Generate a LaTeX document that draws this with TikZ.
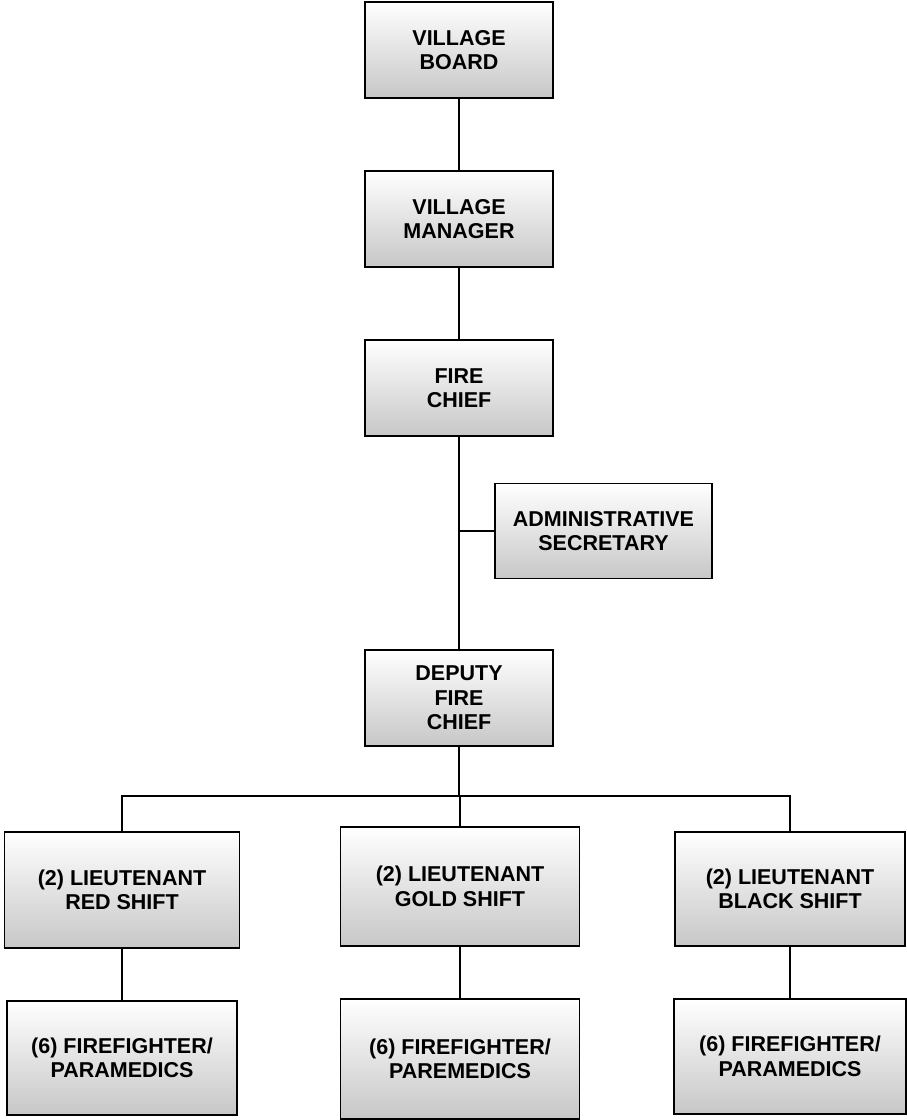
\documentclass[tikz,border=0pt]{standalone}
\usepackage{fontspec}
\setmainfont{Liberation Sans}
\begin{document}
\begin{tikzpicture}[x=1pt,y=-1pt,
  orgbox/.style={draw=black, line width=1.8pt, top color=white, bottom color=black!22,
    align=center, inner sep=0pt, font=\fontsize{21.5}{24.5}\selectfont\bfseries},
  link/.style={line width=2pt, black}]
\useasboundingbox (0,0) rectangle (906,1120);

% chain of command
\node[orgbox, minimum width=188pt, minimum height=96pt] (board)   at (459,50)  {VILLAGE\\BOARD};
\node[orgbox, minimum width=188pt, minimum height=96pt] (manager) at (459,219) {VILLAGE\\MANAGER};
\node[orgbox, minimum width=188pt, minimum height=96pt] (chief)   at (459,388) {FIRE\\CHIEF};
\node[orgbox, minimum width=217pt, minimum height=95pt] (admin)   at (603.5,531) {ADMINISTRATIVE\\SECRETARY};
\node[orgbox, minimum width=188pt, minimum height=96pt] (deputy)  at (459,698) {DEPUTY\\FIRE\\CHIEF};

% shifts
\node[orgbox, minimum width=235pt, minimum height=116pt] (redlt)   at (122,890)  {(2) LIEUTENANT\\RED SHIFT};
\node[orgbox, minimum width=239pt, minimum height=119pt] (goldlt)  at (460,886.5) {(2) LIEUTENANT\\GOLD SHIFT};
\node[orgbox, minimum width=230pt, minimum height=114pt] (blacklt) at (790,889)    {(2) LIEUTENANT\\BLACK SHIFT};

\node[orgbox, minimum width=230pt, minimum height=114pt] (redff)   at (122,1058)   {(6) FIREFIGHTER/\\PARAMEDICS};
\node[orgbox, minimum width=239pt, minimum height=120pt] (goldff)  at (460,1059) {(6) FIREFIGHTER/\\PAREMEDICS};
\node[orgbox, minimum width=232pt, minimum height=115pt] (blackff) at (790,1056.5) {(6) FIREFIGHTER/\\PARAMEDICS};

% connectors
\coordinate (bus) at (459,796);
\coordinate (adminjoin) at (chief.south |- admin.west);
\draw[link] (board.south) -- (manager.north);
\draw[link] (manager.south) -- (chief.north);
\draw[link] (chief.south) -- (deputy.north);
\draw[link] (admin.west) -- (adminjoin);
\draw[link] (deputy.south) -- (bus);
\draw[link] (redlt.north) -- (redlt.north |- bus) -- (blacklt.north |- bus) -- (blacklt.north);
\draw[link] (goldlt.north) -- (goldlt.north |- bus);
\draw[link] (redlt.south) -- (redlt.south |- redff.north);
\draw[link] (goldlt.south) -- (goldlt.south |- goldff.north);
\draw[link] (blacklt.south) -- (blacklt.south |- blackff.north);
\end{tikzpicture}
\end{document}
